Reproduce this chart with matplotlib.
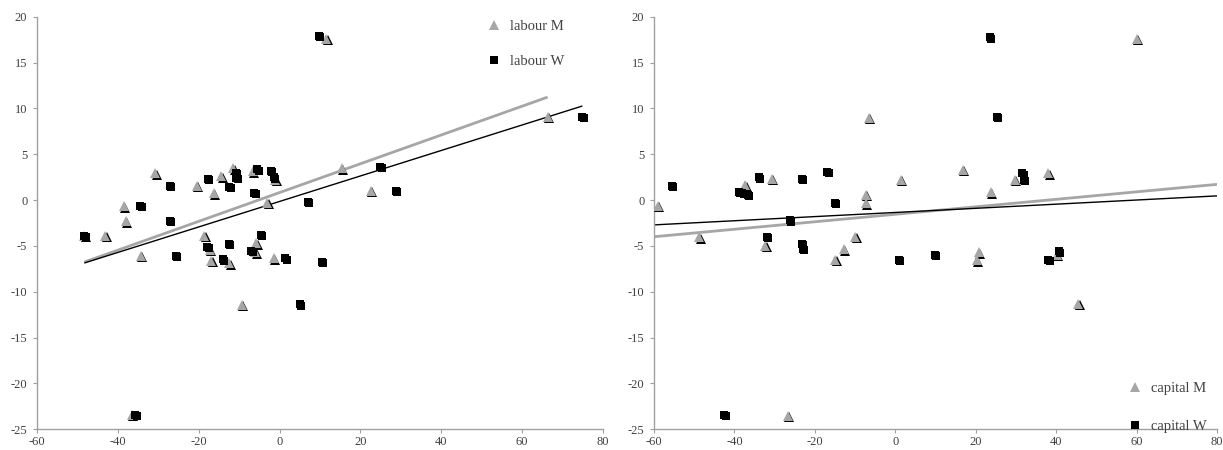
import matplotlib
matplotlib.use("Agg")
import matplotlib.pyplot as plt
import matplotlib.transforms as mtransforms
import numpy as np

# ---------------- data ----------------
labour_m_x = [-48.3, -38.5, -38.1, -43.1, -34.3, -30.7, -20.4, -18.6, -17.3, -16.9, -16.2,
              -14.4, -12.4, -11.4, -9.3, -6.6, -5.8, -6.0, -3.0, -1.4, -1.1, 11.6, 15.4,
              22.5, 66.3, -36.5]
labour_m_y = [-3.9, -0.7, -2.3, -3.9, -6.1, 2.9, 1.55, -3.9, -5.4, -6.6, 0.75,
              2.6, -6.9, 3.45, -11.45, 3.15, -4.7, -5.7, -0.3, -6.35, 2.2, 17.6, 3.45,
              1.0, 9.1, -23.4]
labour_w_x = [-48.3, -34.4, -27.2, -27.2, -25.6, -17.8, -17.9, -12.4, -12.5, -14.1, -10.9,
              -10.7, -6.3, -5.5, -7.0, -4.7, -2.1, -1.5, 1.4, 7.0, 5.0, 10.5, 9.65,
              24.9, 28.7, 74.9, -35.7]
labour_w_y = [-3.9, -0.65, 1.55, -2.25, -6.1, 2.3, -5.1, 1.45, -4.75, -6.45, 3.0,
              2.45, 0.8, 3.35, -5.5, -3.8, 3.2, 2.5, -6.35, -0.2, -11.35, -6.75, 17.9,
              3.6, 1.0, 9.1, -23.45]

capital_m_x = [-59.1, -48.7, -37.3, -32.3, -30.7, -26.7, -14.9, -12.8, -9.9, -7.4, -7.4,
               -6.6, 1.3, 16.8, 20.8, 20.2, 23.7, 29.7, 38.0, 40.1, 45.5, 60.0]
capital_m_y = [-0.65, -4.07, 1.6, -5.0, 2.3, -23.55, -6.5, -5.35, -4.0, 0.55, -0.35,
               9.0, 2.2, 3.27, -5.7, -6.55, 0.84, 2.18, 2.9, -6.0, -11.3, 17.6]
capital_w_x = [-55.5, -38.9, -38.0, -36.7, -34.0, -32.0, -26.3, -23.2, -23.3, -23.0, -16.9,
               -15.1, 0.9, 9.8, 23.5, 25.2, 31.6, 32.0, 38.0, 40.7, -42.5]
capital_w_y = [1.53, 0.9, 0.8, 0.55, 2.5, -4.0, -2.2, 2.3, -4.8, -5.3, 3.1,
               -0.3, -6.5, -6.0, 17.75, 9.1, 2.9, 2.2, -6.5, -5.6, -23.45]

# linear trendlines (slope, intercept)
labour_m_fit = (0.157, 0.82)
labour_w_fit = (0.139, -0.15)
capital_m_fit = (0.0408, -1.55)
capital_w_fit = (0.0226, -1.35)

x_ticks = [-60, -40, -20, 0, 20, 40, 60, 80]
y_ticks = [-25, -20, -15, -10, -5, 0, 5, 10, 15, 20]

# ---------------- style ----------------
GRAY = "#a6a6a6"
AXC = "#a0a0a0"
TXT = "#404040"
plt.rcParams["font.family"] = ["Liberation Serif", "DejaVu Serif"]
plt.rcParams["axes.unicode_minus"] = False

fig = plt.figure(figsize=(12.23, 4.5), dpi=100)
ax1 = fig.add_axes([37 / 1223, 20.7 / 450, 566 / 1223, 412.6 / 450])
ax2 = fig.add_axes([654 / 1223, 20.7 / 450, 563 / 1223, 412.6 / 450])


def style_axes(ax):
    ax.set_xlim(-60, 80)
    ax.set_ylim(-25, 20)
    ax.set_xticks(x_ticks)
    ax.set_yticks(y_ticks)
    for s in ("top", "right"):
        ax.spines[s].set_visible(False)
    for s in ("left", "bottom"):
        ax.spines[s].set_color(AXC)
        ax.spines[s].set_linewidth(1.0)
    ax.tick_params(axis="both", direction="out", length=3, width=0.8, color=AXC,
                   labelsize=9, labelcolor=TXT)
    ax.tick_params(axis="y", pad=4)
    ax.tick_params(axis="x", pad=1.5)
    ax.set_facecolor("none")


def draw_series(ax, mx, my, wx, wy, mfit, wfit, mlabel, wlabel, line_range=None):
    shadow = mtransforms.offset_copy(ax.transData, fig=fig, x=1.4, y=-1.4, units="dots")
    # trendlines
    for fit, xs, ys, col, lw in ((mfit, mx, my, GRAY, 2.0), (wfit, wx, wy, "black", 1.0)):
        if line_range is None:
            xr = np.array([min(xs), max(xs)])
        else:
            xr = np.array(line_range)
        ax.plot(xr, fit[0] * xr + fit[1], color=col, lw=lw, zorder=2, solid_capstyle="butt")
    # markers with shadow
    ax.plot(mx, my, linestyle="none", marker="^", markersize=6.5, color="black",
            markeredgewidth=0, transform=shadow, zorder=3)
    hm, = ax.plot(mx, my, linestyle="none", marker="^", markersize=6.5, color=GRAY,
                  markeredgewidth=0, zorder=4, label=mlabel)
    ax.plot(wx, wy, linestyle="none", marker="s", markersize=5.5, color="black",
            markeredgewidth=0, transform=shadow, zorder=5)
    hw, = ax.plot(wx, wy, linestyle="none", marker="s", markersize=5.5, color="black",
                  markeredgewidth=0, zorder=6, label=wlabel)
    return hm, hw


style_axes(ax1)
style_axes(ax2)

h1 = draw_series(ax1, labour_m_x, labour_m_y, labour_w_x, labour_w_y,
                 labour_m_fit, labour_w_fit, "labour M", "labour W")
h2 = draw_series(ax2, capital_m_x, capital_m_y, capital_w_x, capital_w_y,
                 capital_m_fit, capital_w_fit, "capital M", "capital W", line_range=(-60, 80))

leg_kw = dict(frameon=False, fontsize=10.5, handlelength=1.0, handletextpad=0.6,
              borderpad=0, borderaxespad=0, labelcolor=TXT, markerscale=1.0)
ax1.legend(handles=list(h1), loc="upper left", bbox_to_anchor=(0.795, 0.993),
           labelspacing=1.5, **leg_kw)
ax2.legend(handles=list(h2), loc="lower left", bbox_to_anchor=(0.842, -0.01),
           labelspacing=1.7, **leg_kw)

fig.savefig("out.png", dpi=100)
